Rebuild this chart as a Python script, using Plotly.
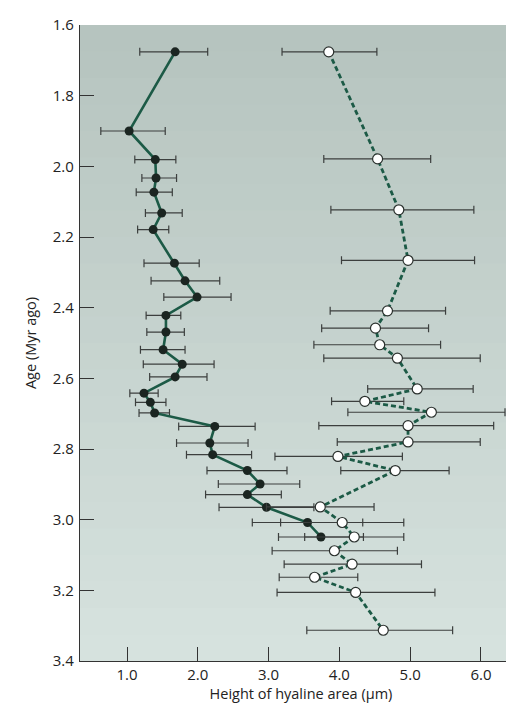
import plotly.graph_objects as go

# ---- data ----
filled_age = [1.676, 1.900, 1.981, 2.033, 2.073, 2.132, 2.179, 2.274, 2.324, 2.370,
              2.422, 2.469, 2.519, 2.560, 2.596, 2.642, 2.668, 2.698, 2.736, 2.783,
              2.816, 2.861, 2.899, 2.929, 2.965, 3.008, 3.049]
filled_x = [1.68, 1.03, 1.40, 1.41, 1.38, 1.49, 1.37, 1.67, 1.82, 1.99,
            1.55, 1.55, 1.51, 1.78, 1.68, 1.24, 1.33, 1.39, 2.24, 2.17,
            2.21, 2.70, 2.88, 2.70, 2.97, 3.55, 3.74]
filled_lo = [1.18, 0.63, 1.11, 1.21, 1.13, 1.26, 1.15, 1.24, 1.34, 1.52,
             1.27, 1.28, 1.19, 1.23, 1.32, 1.04, 1.12, 1.17, 1.73, 1.70,
             1.84, 2.13, 2.29, 2.11, 2.30, 2.77, 3.14]
filled_hi = [2.14, 1.54, 1.69, 1.70, 1.64, 1.78, 1.59, 2.02, 2.31, 2.47,
             1.76, 1.81, 1.82, 2.23, 2.13, 1.44, 1.55, 1.60, 2.81, 2.71,
             2.76, 3.26, 3.44, 3.18, 3.64, 4.33, 4.34]

open_age = [1.676, 1.979, 2.123, 2.266, 2.409, 2.458, 2.505, 2.543, 2.630, 2.665,
            2.696, 2.734, 2.780, 2.821, 2.861, 2.964, 3.008, 3.049, 3.088, 3.126,
            3.163, 3.206, 3.313]
open_x = [3.85, 4.54, 4.84, 4.97, 4.68, 4.51, 4.57, 4.82, 5.10, 4.36,
          5.30, 4.97, 4.97, 3.98, 4.79, 3.73, 4.04, 4.21, 3.93, 4.18,
          3.65, 4.23, 4.62]
open_lo = [3.19, 3.78, 3.88, 4.03, 3.87, 3.75, 3.64, 3.78, 4.40, 3.89,
           4.12, 3.71, 3.97, 3.09, 4.02, 2.97, 3.17, 3.51, 3.05, 3.22,
           3.15, 3.12, 3.54]
open_hi = [4.53, 5.29, 5.90, 5.91, 5.50, 5.26, 5.43, 5.99, 5.89, 4.91,
           6.34, 6.18, 5.99, 4.89, 5.55, 4.49, 4.91, 4.91, 4.82, 5.16,
           4.26, 5.35, 5.60]

x_ticks = [1.0, 2.0, 3.0, 4.0, 5.0, 6.0]
y_ticks = [1.6, 1.8, 2.0, 2.2, 2.4, 2.6, 2.8, 3.0, 3.2, 3.4]

FONT = "Open Sans"
ERR_COLOR = "#3c3f3e"
LINE_COLOR = "#1c5a46"

fig = go.Figure()

def err(xs, lo, hi):
    return dict(type="data", symmetric=False,
                array=[h - x for x, h in zip(xs, hi)],
                arrayminus=[x - l for x, l in zip(xs, lo)],
                color=ERR_COLOR, thickness=1.2, width=4)

fig.add_trace(go.Scatter(
    x=filled_x, y=filled_age, mode="lines+markers",
    line=dict(color=LINE_COLOR, width=2.6),
    marker=dict(color="#1b2521", size=9, line=dict(color="#1b2521", width=0)),
    error_x=err(filled_x, filled_lo, filled_hi),
    showlegend=False))

fig.add_trace(go.Scatter(
    x=open_x, y=open_age, mode="lines+markers",
    line=dict(color=LINE_COLOR, width=2.8, dash="5px,3px"),
    marker=dict(color="white", size=10, line=dict(color="#2a302d", width=1.2)),
    error_x=err(open_x, open_lo, open_hi),
    showlegend=False))

# background gradient bands (paper coords)
top = (0xb6, 0xc4, 0xbf)
bot = (0xd6, 0xe2, 0xde)
n = 24
shapes = []
for i in range(n):
    t = i / (n - 1)
    c = tuple(int(round(top[k] + (bot[k] - top[k]) * t)) for k in range(3))
    shapes.append(dict(type="rect", xref="paper", yref="paper",
                       x0=0, x1=1, y1=1 - i / n, y0=1 - (i + 1) / n - 0.001,
                       fillcolor="rgb(%d,%d,%d)" % c, line=dict(width=0),
                       layer="below"))

fig.update_layout(
    width=514, height=704,
    margin=dict(l=72, r=0, t=17, b=51),
    paper_bgcolor="white", plot_bgcolor="#c8d5d0",
    shapes=shapes,
    font=dict(family=FONT, size=14, color="#222"),
    xaxis=dict(range=[0.336, 6.58], tickvals=x_ticks,
               ticktext=["%.1f" % v for v in x_ticks],
               ticks="inside", ticklen=14, tickwidth=1.2, tickcolor="#333",
               showline=True, linecolor="#333", linewidth=1.4,
               showgrid=False, zeroline=False,
               tickfont=dict(family=FONT, size=15, color="#222"),
               title=dict(text="Height of hyaline area (µm)", standoff=4,
                          font=dict(family=FONT, size=14.5, color="#222"))),
    yaxis=dict(range=[3.4, 1.6], tickvals=y_ticks,
               ticktext=["%.1f" % v for v in y_ticks],
               ticks="inside", ticklen=14, tickwidth=1.2, tickcolor="#333",
               showline=True, linecolor="#333", linewidth=1.4,
               showgrid=False, zeroline=False,
               tickfont=dict(family=FONT, size=15, color="#222"),
               ticklabelstandoff=2,
               title=dict(text="Age (Myr ago)", standoff=12,
                          font=dict(family=FONT, size=14.5, color="#222"))),
)

fig.write_html("out.html")
